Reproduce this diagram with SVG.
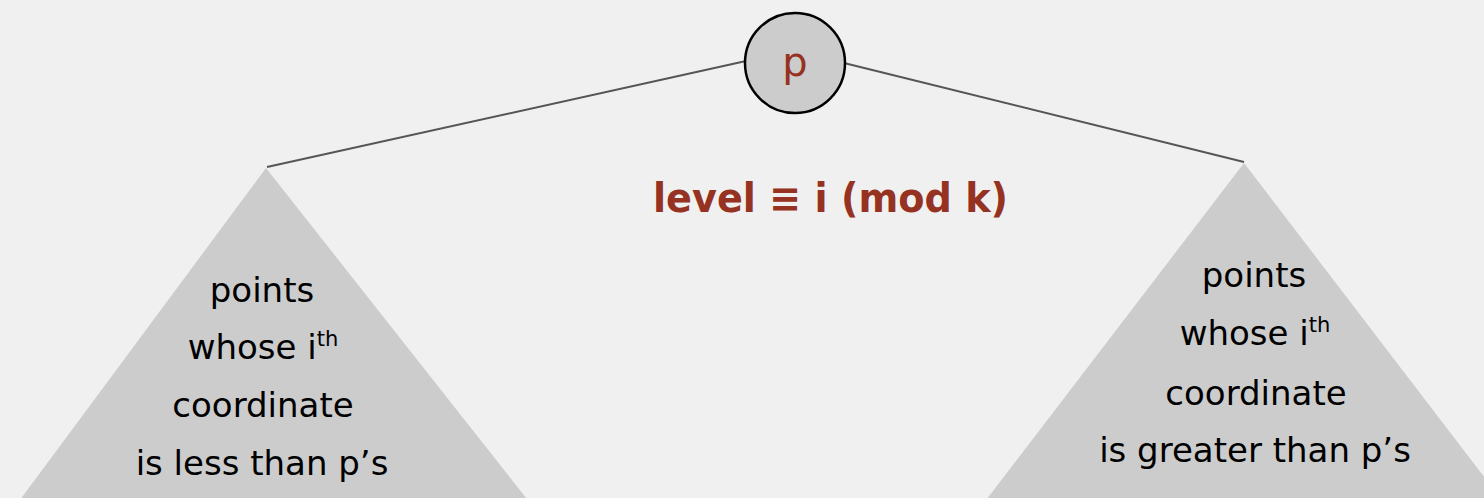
<svg xmlns="http://www.w3.org/2000/svg" width="1484" height="498" viewBox="0 0 1484 498">
<style>
.tri{fill:#cccccc;stroke:none}
.edge{stroke:#555555;stroke-width:2;fill:none}
.lbl{font-family:"DejaVu Sans",sans-serif;font-size:34px;fill:#000000;text-anchor:middle}
.sup{font-size:21px}
.red{fill:#963222}
</style>
<rect width="1484" height="498" fill="#f0f0f0"/>
<g id="connectors">
<line class="edge" x1="267" y1="167" x2="746" y2="61"/>
<line class="edge" x1="844" y1="63" x2="1244" y2="162"/>
</g>
<g id="left-subtree">
<polygon class="tri" points="266,168 14,508 534,508"/>
<text class="lbl" x="262" y="302">points</text>
<text class="lbl" x="263" y="359">whose i<tspan class="sup" dy="-13">th</tspan></text>
<text class="lbl" x="263" y="417">coordinate</text>
<text class="lbl" x="262" y="475">is less than p’s</text>
</g>
<g id="right-subtree">
<polygon class="tri" points="1244,163 980,508 1508,508"/>
<text class="lbl" x="1254" y="287">points</text>
<text class="lbl" x="1255" y="345">whose i<tspan class="sup" dy="-13">th</tspan></text>
<text class="lbl" x="1256" y="405">coordinate</text>
<text class="lbl" x="1255" y="462">is greater than p’s</text>
</g>
<g id="node-p">
<circle cx="795" cy="63" r="50" fill="#cccccc" stroke="#000000" stroke-width="2.5"/>
<text x="795" y="76" font-family="DejaVu Sans, sans-serif" font-size="40" fill="#963222" text-anchor="middle">p</text>
</g>
<g id="label-level">
<text x="653" y="212" font-family="DejaVu Sans, sans-serif" font-size="40" font-weight="bold" fill="#963222" textLength="355" lengthAdjust="spacingAndGlyphs">level ≡ i (mod k)</text>
</g>
</svg>
